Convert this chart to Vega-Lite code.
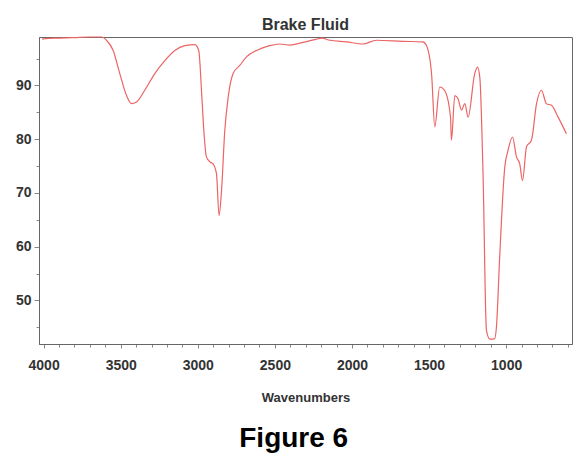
{
  "$schema": "https://vega.github.io/schema/vega-lite/v6.json",
  "padding": {"left": 14, "top": 16, "right": 5, "bottom": 5},
  "background": "white",
  "title": {"text": "Figure 6", "orient": "bottom", "anchor": "middle", "fontSize": 28, "fontWeight": "bold", "font": "Liberation Sans", "color": "#000000", "offset": 20},
  "config": {"view": {"stroke": "#666666", "strokeWidth": 1}, "font": "Liberation Sans"},
  "vconcat": [
    {
      "width": 533,
      "height": 307,
      "title": {"text": "Brake Fluid", "fontSize": 16, "fontWeight": "bold", "color": "#333333", "offset": 2, "anchor": "middle", "font": "Liberation Sans"},
      "data": {"values": [
        {"w": 4010, "t": 98.6}, {"w": 3992, "t": 98.7}, {"w": 3900, "t": 98.8}, {"w": 3800, "t": 98.9}, {"w": 3700, "t": 99.0},
        {"w": 3624, "t": 99.0}, {"w": 3592, "t": 98.4}, {"w": 3549, "t": 96.5}, {"w": 3506, "t": 92.2}, {"w": 3462, "t": 88.1},
        {"w": 3430, "t": 86.6}, {"w": 3398, "t": 86.9}, {"w": 3344, "t": 89.1}, {"w": 3279, "t": 92.2}, {"w": 3214, "t": 94.6},
        {"w": 3149, "t": 96.5}, {"w": 3084, "t": 97.4}, {"w": 3019, "t": 97.6}, {"w": 2994, "t": 96.5}, {"w": 2974, "t": 88.0},
        {"w": 2961, "t": 81.6}, {"w": 2944, "t": 76.7}, {"w": 2918, "t": 75.7}, {"w": 2901, "t": 75.4}, {"w": 2879, "t": 73.6},
        {"w": 2862, "t": 65.8}, {"w": 2846, "t": 70.5}, {"w": 2825, "t": 81.6}, {"w": 2803, "t": 87.8}, {"w": 2771, "t": 92.2},
        {"w": 2728, "t": 93.7}, {"w": 2684, "t": 95.3}, {"w": 2619, "t": 96.5}, {"w": 2533, "t": 97.4}, {"w": 2468, "t": 97.7},
        {"w": 2403, "t": 97.5}, {"w": 2319, "t": 98.0}, {"w": 2230, "t": 98.6}, {"w": 2196, "t": 98.8}, {"w": 2144, "t": 98.4},
        {"w": 2036, "t": 98.1}, {"w": 1930, "t": 97.7}, {"w": 1841, "t": 98.4}, {"w": 1671, "t": 98.2}, {"w": 1541, "t": 98.1},
        {"w": 1517, "t": 97.4}, {"w": 1484, "t": 92.2}, {"w": 1463, "t": 82.3}, {"w": 1431, "t": 89.7}, {"w": 1398, "t": 89.0},
        {"w": 1361, "t": 84.1}, {"w": 1355, "t": 79.8}, {"w": 1333, "t": 88.1}, {"w": 1312, "t": 87.5}, {"w": 1290, "t": 85.4},
        {"w": 1268, "t": 86.6}, {"w": 1247, "t": 84.1}, {"w": 1204, "t": 92.2}, {"w": 1186, "t": 93.4}, {"w": 1171, "t": 91.5},
        {"w": 1150, "t": 73.6}, {"w": 1128, "t": 44.5}, {"w": 1106, "t": 42.8}, {"w": 1074, "t": 42.9}, {"w": 1063, "t": 45.1},
        {"w": 1042, "t": 58.1}, {"w": 1009, "t": 74.8}, {"w": 988, "t": 77.9}, {"w": 959, "t": 80.4}, {"w": 933, "t": 76.7},
        {"w": 912, "t": 75.4}, {"w": 894, "t": 72.3}, {"w": 868, "t": 78.6}, {"w": 836, "t": 79.8}, {"w": 803, "t": 86.6},
        {"w": 771, "t": 89.1}, {"w": 739, "t": 86.6}, {"w": 706, "t": 86.3}, {"w": 663, "t": 84.1}, {"w": 609, "t": 81.0}
      ]},
      "mark": {"type": "line", "color": "#ec6464", "strokeWidth": 1.2, "interpolate": "monotone"},
      "encoding": {
        "x": {
          "field": "w", "type": "quantitative",
          "scale": {"domain": [573, 4030], "reverse": true, "nice": false, "zero": false},
          "axis": {
            "title": "Wavenumbers", "titleFontSize": 13, "titleFontWeight": "bold", "titleColor": "#333333", "titlePadding": 19,
            "values": [600, 700, 800, 900, 1000, 1100, 1200, 1300, 1400, 1500, 1600, 1700, 1800, 1900, 2000, 2100, 2200, 2300, 2400, 2500, 2600, 2700, 2800, 2900, 3000, 3100, 3200, 3300, 3400, 3500, 3600, 3700, 3800, 3900, 4000],
            "format": "d",
            "labelExpr": "datum.value % 500 === 0 ? datum.label : ''",
            "labelOverlap": false, "labelFlush": false,
            "labelFontSize": 14, "labelFontWeight": "bold", "labelColor": "#333333", "labelPadding": 10,
            "tickSize": {"condition": {"test": "datum.value % 500 === 0", "value": 4}, "value": 3},
            "tickColor": "#888888", "domainColor": "#666666", "grid": false
          }
        },
        "y": {
          "field": "t", "type": "quantitative",
          "scale": {"domain": [41.9, 99], "nice": false, "zero": false},
          "axis": {
            "title": null,
            "values": [45, 50, 55, 60, 65, 70, 75, 80, 85, 90, 95],
            "labelExpr": "datum.value % 10 === 0 ? datum.label : ''",
            "labelOverlap": false, "labelFlush": false,
            "labelFontSize": 14, "labelFontWeight": "bold", "labelColor": "#333333", "labelPadding": 3,
            "tickSize": {"condition": {"test": "datum.value % 10 === 0", "value": 5}, "value": 3},
            "tickColor": "#888888", "domainColor": "#666666", "grid": false
          }
        }
      }
    }
  ]
}
